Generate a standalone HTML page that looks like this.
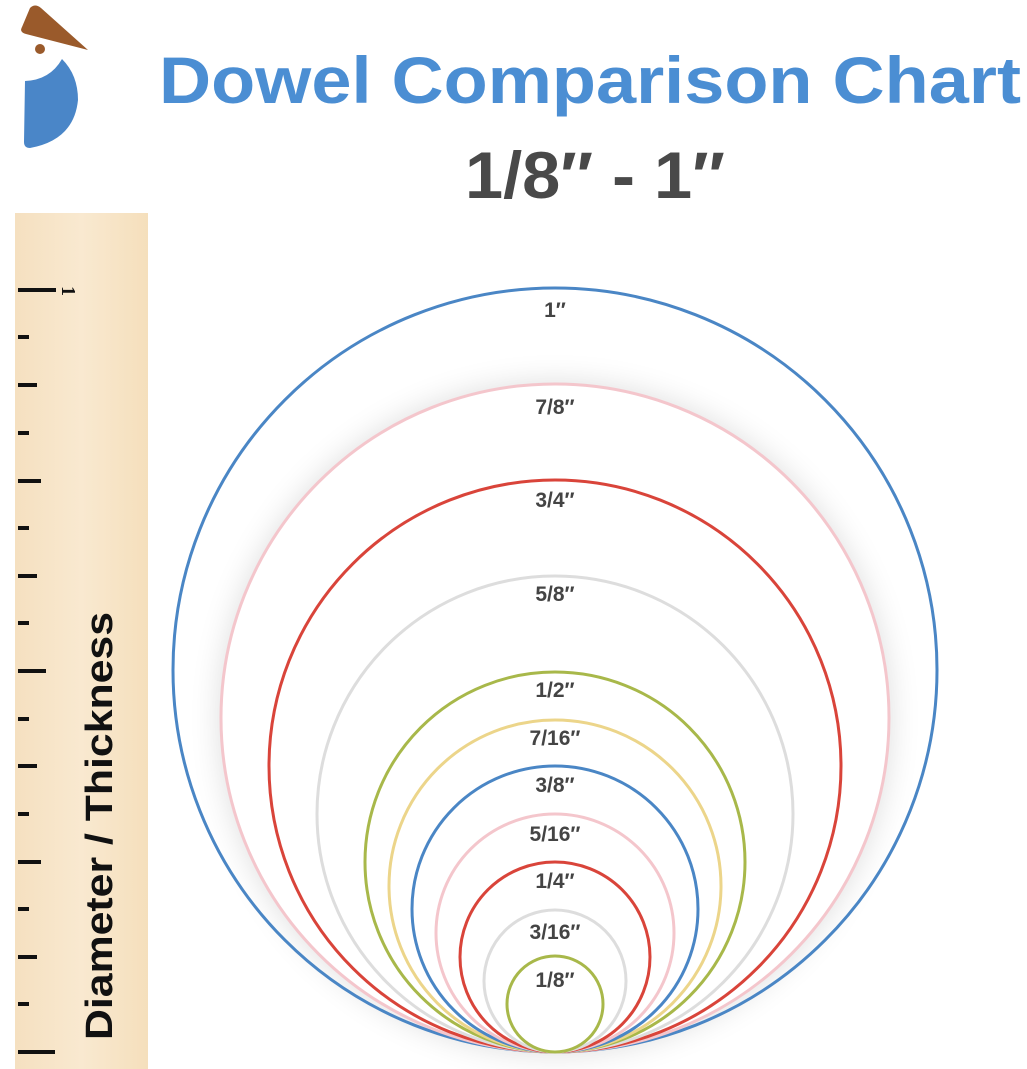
<!DOCTYPE html>
<html><head><meta charset="utf-8"><style>
html,body{margin:0;padding:0;background:#fff;}
svg{display:block;}
</style></head><body>
<svg width="1027" height="1069" viewBox="0 0 1027 1069" xmlns="http://www.w3.org/2000/svg">
<defs>
<linearGradient id="wood" x1="0" x2="1" y1="0" y2="0">
<stop offset="0" stop-color="#f5e0c0"/><stop offset="0.5" stop-color="#f9e9d0"/><stop offset="1" stop-color="#f5dfbc"/>
</linearGradient>
<filter id="sh" x="-20%" y="-20%" width="140%" height="140%"><feGaussianBlur stdDeviation="16"/></filter>
</defs>
<rect width="1027" height="1069" fill="#fff"/>
<!-- logo -->
<path d="M30 8 Q35 3 41 8 L88 50 L26 34 Q19 32 22 27 Z" fill="#9a5a2b"/>
<circle cx="40" cy="49" r="5" fill="#9a5a2b"/>
<path d="M25 81 Q50 80 62 59 Q78 75 78 100 Q74 140 30 148 Q24 148 24 142 Z" fill="#4a86c8"/>
<!-- title -->
<text x="590" y="103" text-anchor="middle" font-family="Liberation Sans, sans-serif" font-weight="bold" font-size="66" fill="#4b8ed3" textLength="862" lengthAdjust="spacingAndGlyphs">Dowel Comparison Chart</text>
<text x="595" y="198" text-anchor="middle" font-family="Liberation Sans, sans-serif" font-weight="bold" font-size="66" fill="#494949" textLength="260" lengthAdjust="spacingAndGlyphs">1/8″ - 1″</text>
<!-- ruler -->
<rect x="15" y="213" width="133" height="856" fill="url(#wood)"/>
<g stroke="#111" stroke-width="4">
<line x1="18" y1="290" x2="56" y2="290"/>
<line x1="18" y1="337" x2="29" y2="337"/>
<line x1="18" y1="385" x2="37" y2="385"/>
<line x1="18" y1="433" x2="29" y2="433"/>
<line x1="18" y1="481" x2="41" y2="481"/>
<line x1="18" y1="528" x2="29" y2="528"/>
<line x1="18" y1="576" x2="37" y2="576"/>
<line x1="18" y1="623" x2="29" y2="623"/>
<line x1="18" y1="671" x2="46" y2="671"/>
<line x1="18" y1="719" x2="29" y2="719"/>
<line x1="18" y1="766" x2="37" y2="766"/>
<line x1="18" y1="814" x2="29" y2="814"/>
<line x1="18" y1="862" x2="41" y2="862"/>
<line x1="18" y1="909" x2="29" y2="909"/>
<line x1="18" y1="957" x2="37" y2="957"/>
<line x1="18" y1="1004" x2="29" y2="1004"/>
<line x1="18" y1="1052" x2="55" y2="1052"/>
</g>
<text transform="translate(62,291) rotate(90)" text-anchor="middle" font-family="Liberation Serif, serif" font-weight="bold" font-size="20" fill="#111">1</text>
<text transform="translate(112,1040) rotate(-90)" font-family="Liberation Sans, sans-serif" font-weight="bold" font-size="38" fill="#111" textLength="428" lengthAdjust="spacingAndGlyphs">Diameter / Thickness</text>
<g>
<g filter="url(#sh)" fill="#000" opacity="0.14">
<circle cx="555" cy="718" r="334"/>
<circle cx="555" cy="766" r="286"/>
<circle cx="555" cy="814" r="238"/>
<circle cx="555" cy="862" r="190"/>
<circle cx="555" cy="886" r="166"/>
<circle cx="555" cy="909" r="143"/>
<circle cx="555" cy="933" r="119"/>
<circle cx="555" cy="957" r="95"/>
<circle cx="555" cy="981" r="71"/>
<circle cx="555" cy="1004" r="48"/>
</g>
<circle cx="555" cy="670" r="382" fill="none" stroke="#4a86c5" stroke-width="3"/>
<circle cx="555" cy="718" r="334" fill="#fff" stroke="#f4c6cc" stroke-width="3"/>
<circle cx="555" cy="766" r="286" fill="#fff" stroke="#d9443a" stroke-width="3"/>
<circle cx="555" cy="814" r="238" fill="#fff" stroke="#dddddd" stroke-width="3"/>
<circle cx="555" cy="862" r="190" fill="#fff" stroke="#a8b84a" stroke-width="3"/>
<circle cx="555" cy="886" r="166" fill="#fff" stroke="#ecd58a" stroke-width="3"/>
<circle cx="555" cy="909" r="143" fill="#fff" stroke="#4a86c5" stroke-width="3"/>
<circle cx="555" cy="933" r="119" fill="#fff" stroke="#f4c6cc" stroke-width="3"/>
<circle cx="555" cy="957" r="95" fill="#fff" stroke="#d9443a" stroke-width="3"/>
<circle cx="555" cy="981" r="71" fill="#fff" stroke="#dddddd" stroke-width="3"/>
<circle cx="555" cy="1004" r="48" fill="#fff" stroke="#a8b84a" stroke-width="3"/>
</g>
<g font-family="Liberation Sans, sans-serif" font-weight="bold" font-size="21" fill="#444" text-anchor="middle">
<text x="555" y="317">1″</text>
<text x="555" y="414">7/8″</text>
<text x="555" y="507">3/4″</text>
<text x="555" y="601">5/8″</text>
<text x="555" y="697">1/2″</text>
<text x="555" y="745">7/16″</text>
<text x="555" y="792">3/8″</text>
<text x="555" y="841">5/16″</text>
<text x="555" y="888">1/4″</text>
<text x="555" y="939">3/16″</text>
<text x="555" y="987">1/8″</text>
</g>
</svg>
</body></html>
